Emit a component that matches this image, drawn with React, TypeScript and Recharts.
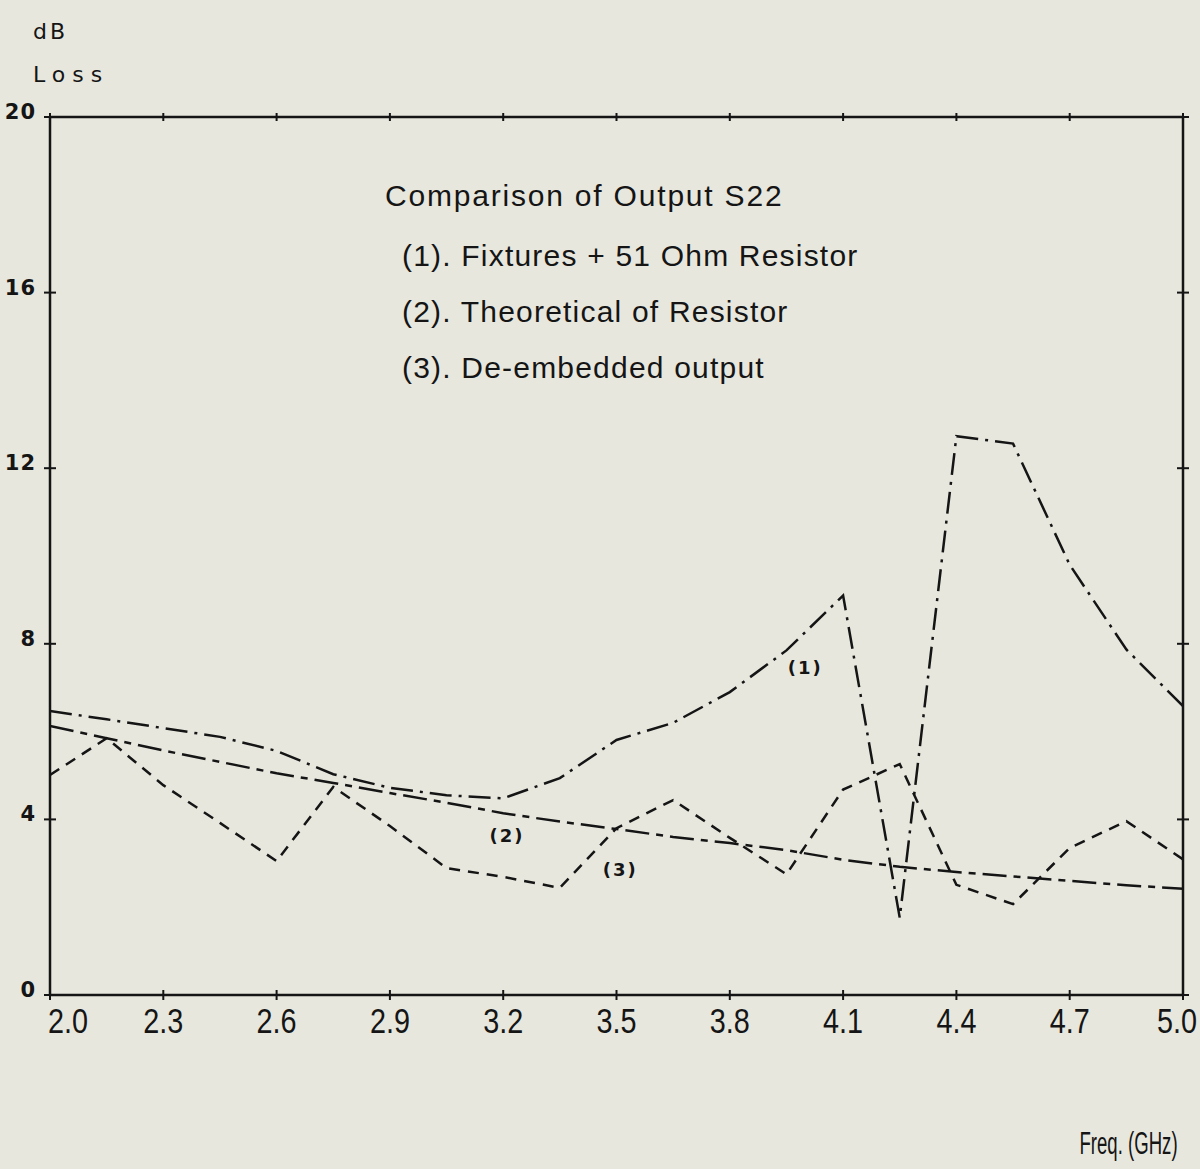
import React from "react";
import { LineChart, Line, XAxis, YAxis, ReferenceDot } from "recharts";

const freq = [2.0, 2.15, 2.3, 2.45, 2.6, 2.75, 2.9, 3.05, 3.2, 3.35, 3.5, 3.65, 3.8, 3.95, 4.1, 4.25, 4.4, 4.55, 4.7, 4.85, 5.0];
const fixtures = [6.47, 6.28, 6.08, 5.88, 5.56, 5.03, 4.72, 4.55, 4.48, 4.94, 5.81, 6.2, 6.9, 7.85, 9.1, 1.76, 12.73, 12.56, 9.8, 7.87, 6.58];
const theoretical = [6.13, 5.85, 5.57, 5.31, 5.05, 4.83, 4.6, 4.38, 4.14, 3.95, 3.78, 3.6, 3.46, 3.3, 3.08, 2.92, 2.8, 2.7, 2.6, 2.5, 2.42];
const deembedded = [5.01, 5.85, 4.78, 3.92, 3.05, 4.74, 3.85, 2.89, 2.69, 2.44, 3.8, 4.44, 3.58, 2.75, 4.68, 5.26, 2.51, 2.07, 3.35, 3.96, 3.09];

const xTicks = [2.0, 2.3, 2.6, 2.9, 3.2, 3.5, 3.8, 4.1, 4.4, 4.7, 5.0];
const yTicks = [0, 4, 8, 12, 16, 20];

const legendLines = [
  "(1). Fixtures + 51 Ohm Resistor",
  "(2). Theoretical of Resistor",
  "(3). De-embedded output",
];

const curveLabels = [
  { text: "(1)", x: 4.0, y: 7.45 },
  { text: "(2)", x: 3.21, y: 3.64 },
  { text: "(3)", x: 3.51, y: 2.85 },
];

const data = freq.map((f, i) => ({
  freq: f,
  s1: fixtures[i],
  s2: theoretical[i],
  s3: deembedded[i],
}));

const INK = "#151515";
const BG = "#e7e7de";
const narrowFont = "'Liberation Sans', Arial, sans-serif";
const plotFont = "'DejaVu Sans', sans-serif";

const MARGIN = { top: 107, right: 7, bottom: 134, left: 10 };
const TOP_AXIS_H = 10;
const PLOT_TOP = MARGIN.top + TOP_AXIS_H;

// bottom axis: tick mark across the axis (and the matching one on the top frame) + condensed label
const BottomTick = (props: any) => {
  const { x, y, payload, index } = props;
  const shift = index === 0 ? 18 : index === xTicks.length - 1 ? -6 : 0;
  return (
    <g>
      <line x1={x} x2={x} y1={y - 5} y2={y + 5} stroke={INK} strokeWidth={2} />
      <line x1={x} x2={x} y1={PLOT_TOP - 4} y2={PLOT_TOP + 4} stroke={INK} strokeWidth={2} />
      <g transform={`translate(${x + shift},${y + 38})`}>
        <text transform="scale(0.8,1)" textAnchor="middle" fontFamily={narrowFont} fontSize={36} fill={INK}>
          {payload.value.toFixed(1)}
        </text>
      </g>
    </g>
  );
};

const LeftTick = (props: any) => {
  const { x, y, payload } = props;
  return (
    <g>
      <line x1={x - 6} x2={x + 6} y1={y} y2={y} stroke={INK} strokeWidth={2} />
      <text x={x - 14} y={y + 2} textAnchor="end" fontFamily={plotFont} fontWeight="bold" fontSize={21} letterSpacing={1} fill={INK}>
        {payload.value}
      </text>
    </g>
  );
};

const RightTick = (props: any) => {
  const { x, y } = props;
  return <line x1={x - 6} x2={x + 6} y1={y} y2={y} stroke={INK} strokeWidth={2} />;
};

const axisLine = { stroke: INK, strokeWidth: 2.5 };

export default function App() {
  return (
    <div style={{ position: "absolute", left: 0, top: 0, width: 1200, height: 1169, background: BG }}>
      <LineChart width={1200} height={1169} data={data} margin={MARGIN}>
        <XAxis
          dataKey="freq"
          type="number"
          domain={[2, 5]}
          ticks={xTicks}
          tick={<BottomTick />}
          tickLine={false}
          tickSize={0}
          tickMargin={0}
          axisLine={axisLine}
          height={40}
          interval={0}
          allowDataOverflow
        />
        <XAxis
          xAxisId="top"
          orientation="top"
          type="number"
          domain={[2, 5]}
          tick={false}
          tickLine={false}
          axisLine={axisLine}
          height={TOP_AXIS_H}
          allowDataOverflow
        />
        <YAxis
          type="number"
          domain={[0, 20]}
          ticks={yTicks}
          tick={<LeftTick />}
          tickLine={false}
          tickSize={0}
          tickMargin={0}
          axisLine={axisLine}
          width={40}
          interval={0}
          allowDataOverflow
        />
        <YAxis
          yAxisId="right"
          orientation="right"
          type="number"
          domain={[0, 20]}
          ticks={yTicks}
          tick={<RightTick />}
          tickLine={false}
          tickSize={0}
          tickMargin={0}
          axisLine={axisLine}
          width={10}
          interval={0}
          allowDataOverflow
        />
        <Line type="linear" dataKey="s1" stroke={INK} strokeWidth={2.5} strokeDasharray="22 7 3 7" dot={false} isAnimationActive={false} />
        <Line type="linear" dataKey="s2" stroke={INK} strokeWidth={2.5} strokeDasharray="24 7 7 7" dot={false} isAnimationActive={false} />
        <Line type="linear" dataKey="s3" stroke={INK} strokeWidth={2.5} strokeDasharray="11 8" dot={false} isAnimationActive={false} />
        {curveLabels.map((c) => (
          <ReferenceDot
            key={c.text}
            x={c.x}
            y={c.y}
            r={0}
            fill="none"
            stroke="none"
            label={{ value: c.text, position: "center", fontFamily: plotFont, fontSize: 18, fontWeight: "bold", letterSpacing: 2, fill: INK }}
          />
        ))}
      </LineChart>

      <div style={{ position: "absolute", left: 33, top: 19, fontFamily: plotFont, fontSize: 22, letterSpacing: 3, color: INK }}>dB</div>
      <div style={{ position: "absolute", left: 33, top: 62, fontFamily: plotFont, fontSize: 22, letterSpacing: 7, color: INK }}>Loss</div>

      <div style={{ position: "absolute", left: 385, top: 178, fontFamily: narrowFont, fontSize: 30, letterSpacing: 1.8, color: INK, lineHeight: "36px", whiteSpace: "nowrap" }}>
        Comparison of Output S22
      </div>
      {legendLines.map((t, i) => (
        <div
          key={t}
          style={{ position: "absolute", left: 402, top: 238 + i * 56, fontFamily: narrowFont, fontSize: 30, letterSpacing: 1.2, color: INK, lineHeight: "36px", whiteSpace: "nowrap" }}
        >
          {t}
        </div>
      ))}

      <div style={{ position: "absolute", right: 22, top: 1126, fontFamily: narrowFont, fontSize: 31, color: INK, transform: "scaleX(0.6)", transformOrigin: "right top", whiteSpace: "nowrap" }}>
        Freq. (GHz)
      </div>
    </div>
  );
}
